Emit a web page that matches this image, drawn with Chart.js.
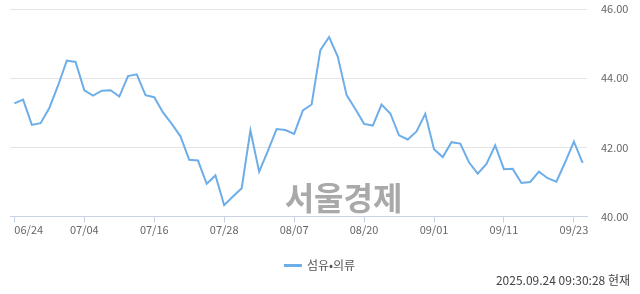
<!DOCTYPE html>
<html>
<head>
<meta charset="utf-8">
<script src="https://cdn.jsdelivr.net/npm/chart.js@4/dist/chart.umd.min.js"></script>
<style>
  html, body { margin: 0; padding: 0; background: #fff; }
  #wrap { width: 640px; height: 294px; }
</style>
</head>
<body>
<div id="wrap"><canvas id="chart"></canvas></div>
<script>
const dates = [
  '06/24','06/25','06/26','06/27','06/30',
  '07/01','07/02','07/03','07/04','07/07','07/08','07/09','07/10','07/11',
  '07/14','07/15','07/16','07/17','07/18','07/21','07/22','07/23','07/24','07/25',
  '07/28','07/29','07/30','07/31',
  '08/01','08/04','08/05','08/06','08/07','08/08','08/11','08/12','08/13','08/14',
  '08/18','08/19','08/20','08/21','08/22','08/25','08/26','08/27','08/28','08/29',
  '09/01','09/02','09/03','09/04','09/05','09/08','09/09','09/10','09/11','09/12',
  '09/15','09/16','09/17','09/18','09/19','09/22','09/23','09/24'
];

const values = [
  43.27, 43.38, 42.65, 42.70, 43.14, 43.79, 44.51, 44.47, 43.65, 43.50,
  43.64, 43.65, 43.47, 44.06, 44.11, 43.51, 43.45, 43.01, 42.68, 42.32,
  41.64, 41.62, 40.95, 41.19, 40.33, 40.58, 40.82, 42.49, 41.30, 41.90,
  42.53, 42.50, 42.39, 43.07, 43.24, 44.81, 45.19, 44.62, 43.51, 43.11,
  42.68, 42.63, 43.24, 42.98, 42.35, 42.23, 42.46, 42.97, 41.95, 41.72,
  42.15, 42.11, 41.57, 41.24, 41.52, 42.06, 41.37, 41.38, 40.97, 41.00,
  41.30, 41.11, 41.01, 41.57, 42.17, 41.55
];

const xTickLabels = ['06/24','07/04','07/16','07/28','08/07','08/20','09/01','09/11','09/23'];
const yTicks = [40, 42, 44, 46];

const seriesName = '섬유•의류';
const stamp = '2025.09.24 09:30:28 현재';
const watermark = '서울경제';

const font = '"Noto Sans CJK KR", "Noto Sans", sans-serif';
const lineColor = '#6eaee8';
const axisColor = '#c9d3e4';

const tickIdx = xTickLabels.map(l => dates.indexOf(l));

// grey newspaper mark sitting low in the plot
const watermarkPlugin = {
  id: 'watermark',
  beforeDatasetsDraw(chart) {
    const { ctx, chartArea: a } = chart;
    ctx.save();
    ctx.font = 'bold 32px ' + font;
    ctx.fillStyle = '#a9a9a9';
    ctx.textAlign = 'center';
    ctx.textBaseline = 'middle';
    ctx.fillText(watermark, a.left + a.width * 0.578, a.top + a.height * 0.909);
    ctx.restore();
  }
};

new Chart(document.getElementById('chart'), {
  type: 'line',
  data: {
    labels: dates,
    datasets: [{
      label: seriesName,
      data: values,
      borderColor: lineColor,
      backgroundColor: lineColor,
      borderWidth: 2,
      pointRadius: 0,
      tension: 0,
      fill: false
    }]
  },
  options: {
    responsive: true,
    maintainAspectRatio: false,
    animation: false,
    layout: { padding: { top: 9, left: 10, right: 10, bottom: 0 } },
    scales: {
      x: {
        type: 'category',
        offset: true,
        afterBuildTicks(scale) {
          const keep = tickIdx.concat([dates.length - 1]);
          scale.ticks = keep.map(v => ({ value: v }));
        },
        afterFit(scale) {
          scale.height = 40;
        },
        ticks: {
          autoSkip: false,
          maxRotation: 0,
          align: 'inner',
          padding: 1,
          color: '#666',
          font: { family: font, size: 11 },
          callback: v => tickIdx.includes(v) ? dates[v] : ''
        },
        grid: {
          offset: false,
          drawOnChartArea: false,
          drawTicks: true,
          tickLength: 6,
          tickColor: c => (c.tick && tickIdx.includes(c.tick.value)) ? axisColor : 'rgba(0,0,0,0)'
        },
        border: { display: true, color: axisColor, width: 1 }
      },
      y: {
        position: 'right',
        min: yTicks[0],
        max: yTicks[yTicks.length - 1],
        afterBuildTicks(scale) {
          scale.ticks = yTicks.map(v => ({ value: v }));
        },
        afterFit(scale) {
          scale.width = 43;
          scale.paddingTop = 0;
          scale.paddingBottom = 0;
        },
        ticks: {
          padding: 14,
          color: '#666',
          font: { family: font, size: 11 },
          callback: v => v.toFixed(2)
        },
        grid: {
          color: '#e4e4e4',
          drawTicks: false
        },
        border: { display: false }
      }
    },
    plugins: {
      legend: {
        position: 'bottom',
        labels: {
          boxWidth: 16,
          boxHeight: 1,
          color: '#555',
          font: { family: font, size: 12 },
          padding: 3
        }
      },
      title: {
        display: true,
        text: stamp,
        position: 'bottom',
        align: 'end',
        color: '#444',
        font: { family: font, size: 12, weight: 'normal' },
        padding: { top: -8, bottom: 6 }
      },
      tooltip: { enabled: false }
    }
  },
  plugins: [watermarkPlugin]
});
</script>
</body>
</html>
